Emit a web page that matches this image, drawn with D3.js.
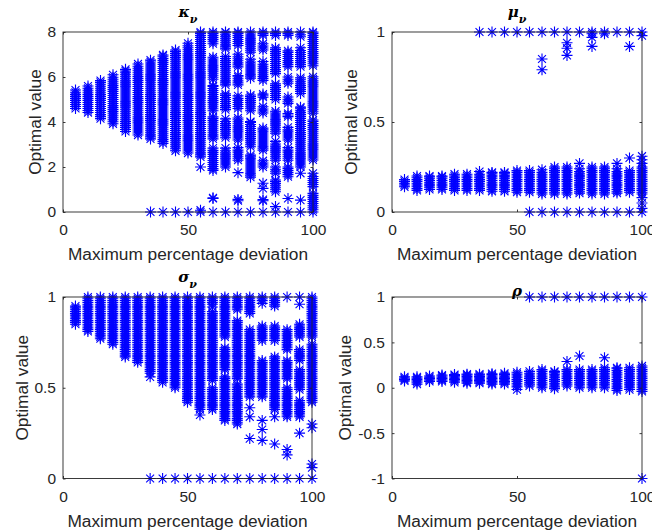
<!DOCTYPE html>
<html><head><meta charset="utf-8">
<script src="https://cdn.jsdelivr.net/npm/d3@7"></script>
<style>body{margin:0;background:#fff}svg{display:block}</style>
</head><body>
<svg id="c" width="652" height="531"></svg>
<script>
const xValues = [5,10,15,20,25,30,35,40,45,50,55,60,65,70,75,80,85,90,95,100];
const xTicks = [0,50,100];

const kappaValues = [
 [4.6,4.69,4.78,4.87,4.96,5.05,5.14,5.23,5.32,5.42],
 [4.42,4.51,4.6,4.69,4.78,4.87,4.96,5.05,5.14,5.23,5.32,5.41,5.5,5.6],
 [4.15,4.24,4.33,4.42,4.51,4.6,4.69,4.78,4.87,4.96,5.05,5.14,5.23,5.32,5.41,5.5,5.59,5.68,5.76,5.84],
 [3.92,4.01,4.1,4.19,4.28,4.37,4.46,4.55,4.64,4.73,4.82,4.91,5,5.09,5.18,5.27,5.36,5.45,5.54,5.63,5.72,5.81,5.9,5.99,6.1],
 [3.58,3.67,3.76,3.85,3.94,4.03,4.12,4.21,4.3,4.39,4.48,4.57,4.66,4.75,4.84,4.93,5.02,5.11,5.2,5.29,5.38,5.47,5.56,5.65,5.74,5.83,5.92,6.01,6.1,6.19,6.27,6.34],
 [3.42,3.51,3.6,3.69,3.78,3.87,3.96,4.05,4.14,4.23,4.32,4.41,4.5,4.59,4.68,4.77,4.86,4.95,5.04,5.13,5.22,5.31,5.4,5.49,5.58,5.67,5.76,5.85,5.94,6.03,6.12,6.21,6.3,6.39,6.48,6.58],
 [0,3.25,3.34,3.43,3.52,3.61,3.7,3.79,3.88,3.97,4.06,4.15,4.24,4.33,4.42,4.51,4.6,4.69,4.78,4.87,4.96,5.05,5.14,5.23,5.32,5.41,5.5,5.59,5.68,5.77,5.86,5.95,6.04,6.13,6.22,6.31,6.4,6.49,6.58,6.67,6.75],
 [0,3.05,3.14,3.23,3.32,3.41,3.5,3.59,3.68,3.77,3.86,3.95,4.04,4.13,4.22,4.31,4.4,4.49,4.58,4.67,4.76,4.85,4.94,5.03,5.12,5.21,5.3,5.39,5.48,5.57,5.66,5.75,5.84,5.93,6.02,6.11,6.2,6.29,6.38,6.47,6.56,6.65,6.74,6.83,6.92,6.98],
 [0,2.72,2.81,2.9,2.99,3.08,3.17,3.26,3.35,3.44,3.53,3.62,3.71,3.8,3.89,3.98,4.07,4.16,4.25,4.34,4.43,4.52,4.61,4.7,4.79,4.88,4.97,5.06,5.15,5.24,5.33,5.42,5.51,5.6,5.69,5.78,5.87,5.96,6.05,6.14,6.23,6.32,6.41,6.5,6.59,6.68,6.77,6.86,6.95,7.04,7.13,7.2],
 [0,2.62,2.71,2.8,2.89,2.98,3.07,3.16,3.25,3.34,3.43,3.52,3.61,3.7,3.79,3.88,3.97,4.06,4.15,4.24,4.33,4.42,4.51,4.6,4.69,4.78,4.87,4.96,5.05,5.14,5.23,5.32,5.41,5.5,5.59,5.68,5.77,5.86,5.95,6.04,6.13,6.22,6.31,6.4,6.49,6.58,6.67,6.76,6.85,6.94,7.03,7.12,7.21,7.3,7.39,7.5],
 [0,.08,2,2.45,2.54,2.63,2.72,2.81,2.9,2.99,3.08,3.17,3.26,3.35,3.44,3.53,3.62,3.71,3.8,3.89,3.98,4.07,4.16,4.25,4.34,4.43,4.52,4.61,4.7,4.79,4.88,4.97,5.06,5.15,5.24,5.33,5.42,5.51,5.6,5.69,5.78,5.87,5.96,6.05,6.14,6.23,6.32,6.41,6.5,6.59,6.68,6.77,6.86,6.95,7.04,7.13,7.22,7.31,7.4,7.49,7.58,7.67,7.76,7.85,7.94,8],
 [0,.6,.63,1.85,1.93,2.02,2.11,2.2,2.29,2.38,2.47,2.56,2.65,2.74,2.84,3.25,3.34,3.43,3.52,3.61,3.7,3.79,3.88,3.97,4.06,4.15,4.23,4.5,4.59,4.68,4.77,4.86,4.95,5.04,5.13,5.22,5.31,5.4,5.49,5.58,5.62,5.9,5.99,6.08,6.17,6.26,6.35,6.44,6.53,6.62,6.71,6.8,6.88,7.48,7.57,7.66,7.75,7.84,7.93,8],
 [0,2,2.09,2.18,2.27,2.36,2.45,2.54,2.63,2.72,2.84,3.3,3.39,3.48,3.57,3.66,3.75,3.84,3.93,4.02,4.14,4.55,4.64,4.73,4.82,4.91,5,5.09,5.18,5.25,5.65,5.74,5.83,5.92,6.01,6.1,6.19,6.28,6.37,6.46,6.55,6.64,6.73,6.82,6.91,7.25,7.34,7.43,7.52,7.61,7.7,7.79,7.88,7.97,8],
 [0,.5,.56,1.75,2.3,2.39,2.48,2.57,2.66,2.75,2.86,3.2,3.29,3.38,3.47,3.56,3.65,3.74,3.83,3.92,4.01,4.1,4.18,4.6,4.69,4.78,4.87,4.96,5.05,5.16,5.65,5.74,5.83,5.92,6.01,6.07,6.45,6.54,6.63,6.72,6.81,6.9,7.01,7.4,7.49,7.58,7.67,7.76,7.85,7.94,8],
 [0,1.55,1.64,1.73,1.82,1.91,2,2.09,2.18,2.27,2.36,2.45,2.53,2.9,2.99,3.08,3.17,3.26,3.35,3.44,3.53,3.62,3.71,3.8,3.89,3.98,4.02,4.5,4.59,4.68,4.77,4.86,4.95,5.04,5.13,5.2,5.95,6.04,6.13,6.22,6.31,6.4,6.49,6.58,6.67,6.79,7.1,7.19,7.28,7.37,7.46,7.55,7.64,7.73,7.82,7.91,8],
 [0,.5,.55,1.05,1.28,2,2.09,2.18,2.28,2.75,2.84,2.93,3.02,3.11,3.2,3.29,3.38,3.47,3.56,3.65,3.73,4.4,4.49,4.58,4.68,5.1,5.17,5.24,5.85,5.94,6.03,6.12,6.21,6.3,6.39,6.48,6.57,6.69,7.2,7.29,7.38,7.48,7.85,7.93,8],
 [0,.24,.9,.99,1.08,1.17,1.26,1.35,1.42,1.72,1.81,1.9,2,2.3,2.39,2.48,2.57,2.66,2.75,2.84,2.93,3.02,3.14,3.5,3.59,3.68,3.77,3.86,3.95,4.04,4.13,4.22,4.31,4.4,4.48,5,5.09,5.18,5.27,5.36,5.45,5.54,5.63,5.7,6.15,6.24,6.33,6.42,6.51,6.6,6.69,6.78,6.87,6.96,7.05,7.14,7.23,7.3,7.85,7.93,8],
 [0,.6,1.57,1.66,1.75,1.84,1.93,2,2.3,2.39,2.48,2.57,2.66,2.75,2.86,3.2,3.29,3.38,3.47,3.56,3.65,3.76,4.24,4.31,4.38,4.83,4.92,5.01,5.11,5.72,5.81,5.9,6,6.46,6.55,6.64,6.73,6.82,6.91,7,7.09,7.16,7.85,7.93,8],
 [0,.53,1.72,2,2.09,2.18,2.27,2.36,2.45,2.54,2.63,2.72,2.81,2.9,2.99,3.08,3.17,3.26,3.35,3.44,3.53,3.62,3.71,3.8,3.89,3.98,4.07,4.16,4.25,4.34,4.43,4.52,4.61,4.66,5.27,5.36,5.45,5.54,5.63,5.72,5.81,5.9,5.97,6.46,6.55,6.64,6.73,6.82,6.91,7,7.09,7.18,7.3,7.79,7.88,8],
 [0,.1,.19,.28,.38,.47,.56,.65,.74,.83,1.13,1.22,1.31,1.4,1.49,1.58,1.72,2.31,2.4,2.49,2.58,2.67,2.76,2.85,2.94,3.03,3.12,3.21,3.3,3.39,3.48,3.57,3.66,3.75,3.84,3.93,4.02,4.09,4.39,4.48,4.57,4.66,4.75,4.84,4.93,5.02,5.11,5.2,5.29,5.38,5.47,5.56,5.65,5.74,5.83,5.92,6.01,6.5,6.59,6.68,6.77,6.86,6.95,7.04,7.13,7.22,7.31,7.4,7.49,7.58,7.67,7.76,7.85,7.94,8]
];

const muValues = [
 [.14,.15,.16,.17,.18],
 [.12,.13,.14,.15,.16,.17,.18,.19,.2],
 [.125,.135,.145,.155,.165,.175,.185,.195,.2],
 [.125,.135,.145,.155,.165,.175,.185,.195,.2],
 [.12,.13,.14,.15,.16,.17,.18,.19,.2,.21],
 [.12,.13,.14,.15,.16,.17,.18,.19,.2,.21],
 [.12,.13,.14,.15,.16,.17,.18,.19,.2,.21,.225,1],
 [.115,.125,.135,.145,.155,.165,.175,.185,.195,.205,.215,.22,1],
 [.115,.125,.135,.145,.155,.165,.175,.185,.195,.205,.215,.22,1],
 [.11,.12,.13,.14,.15,.16,.17,.18,.19,.2,.21,.22,.23,1],
 [0,.11,.12,.13,.14,.15,.16,.17,.18,.19,.2,.21,.22,.23,1],
 [0,.1,.11,.12,.13,.14,.15,.16,.17,.18,.19,.2,.21,.22,.235,.79,.85,1],
 [0,.1,.11,.12,.13,.14,.15,.16,.17,.18,.19,.2,.21,.22,.23,.24,.25,1],
 [0,.1,.11,.12,.13,.14,.15,.16,.17,.18,.19,.2,.21,.22,.23,.24,.25,.87,.91,.94,1],
 [0,.105,.115,.125,.135,.145,.155,.165,.175,.185,.195,.205,.215,.225,.24,.27,1],
 [0,.1,.11,.12,.13,.14,.15,.16,.17,.18,.19,.2,.21,.22,.23,.24,.25,.92,.97,.99,1],
 [0,.1,.11,.12,.13,.14,.15,.16,.17,.18,.19,.2,.21,.22,.23,.24,.25,.99,1],
 [0,.105,.115,.125,.135,.145,.155,.165,.175,.185,.195,.205,.215,.225,.24,.27,1],
 [0,.11,.12,.13,.14,.15,.16,.17,.18,.19,.2,.21,.22,.23,.3,.92,1],
 [0,.02,.05,.08,.1,.11,.12,.13,.14,.15,.16,.17,.18,.19,.2,.21,.22,.23,.24,.25,.27,.29,.31,.98,1]
];

const sigmaValues = [
 [.85,.86,.87,.88,.89,.9,.91,.92,.93,.94,.95],
 [.81,.82,.83,.84,.85,.86,.87,.88,.89,.9,.91,.92,.93,.94,.95,.96,.97,.98,.99,1],
 [.77,.78,.79,.8,.81,.82,.83,.84,.85,.86,.87,.88,.89,.9,.91,.92,.93,.94,.95,.96,.97,.98,.99,1],
 [.74,.75,.76,.77,.78,.79,.8,.81,.82,.83,.84,.85,.86,.87,.88,.89,.9,.91,.92,.93,.94,.95,.96,.97,.98,.99,1],
 [.67,.68,.69,.7,.71,.72,.73,.74,.75,.76,.77,.78,.79,.8,.81,.82,.83,.84,.85,.86,.87,.88,.89,.9,.91,.92,.93,.94,.95,.96,.97,.98,.99,1],
 [.64,.65,.66,.67,.68,.69,.7,.71,.72,.73,.74,.75,.76,.77,.78,.79,.8,.81,.82,.83,.84,.85,.86,.87,.88,.89,.9,.91,.92,.93,.94,.95,.96,.97,.98,.99,1],
 [0,.56,.58,.59,.6,.61,.62,.63,.64,.65,.66,.67,.68,.69,.7,.71,.72,.73,.74,.75,.76,.77,.78,.79,.8,.81,.82,.83,.84,.85,.86,.87,.88,.89,.9,.91,.92,.93,.94,.95,.96,.97,.98,.99,1],
 [0,.53,.54,.55,.56,.57,.58,.59,.6,.61,.62,.63,.64,.65,.66,.67,.68,.69,.7,.71,.72,.73,.74,.75,.76,.77,.78,.79,.8,.81,.82,.83,.84,.85,.86,.87,.88,.89,.9,.91,.92,.93,.94,.95,.96,.97,.98,.99,1],
 [0,.5,.51,.52,.53,.54,.55,.56,.57,.58,.59,.6,.61,.62,.63,.64,.65,.66,.67,.68,.69,.7,.71,.72,.73,.74,.75,.76,.77,.78,.79,.8,.81,.82,.83,.84,.85,.86,.87,.88,.89,.9,.91,.92,.93,.94,.95,.96,.97,.98,.99,1],
 [0,.42,.43,.44,.45,.46,.47,.48,.49,.5,.51,.52,.53,.54,.55,.56,.57,.58,.59,.6,.61,.62,.63,.64,.65,.66,.67,.68,.69,.7,.71,.72,.73,.74,.75,.76,.77,.78,.79,.8,.81,.82,.83,.84,.85,.86,.87,.88,.89,.9,.91,.92,.93,.94,.95,.96,.97,.98,.99,1],
 [0,.35,.38,.39,.4,.41,.42,.43,.44,.45,.46,.47,.48,.49,.5,.51,.52,.53,.54,.55,.56,.57,.58,.59,.6,.61,.62,.63,.64,.65,.66,.67,.68,.69,.7,.71,.72,.73,.74,.75,.76,.77,.78,.79,.8,.81,.82,.83,.84,.85,.86,.87,.88,.89,.9,.91,.92,.93,.94,.95,.96,.97,.98,.99,1],
 [0,.38,.39,.4,.41,.42,.43,.44,.45,.46,.47,.48,.49,.5,.54,.55,.56,.57,.58,.59,.6,.61,.62,.63,.64,.65,.66,.67,.68,.69,.7,.71,.72,.73,.74,.75,.76,.77,.78,.79,.8,.81,.82,.83,.84,.85,.86,.87,.88,.89,.9,.91,.92,.945,.96,.97,.98,.99,1],
 [0,.32,.33,.34,.35,.36,.37,.38,.39,.4,.41,.42,.43,.44,.45,.46,.47,.48,.49,.5,.51,.52,.53,.54,.55,.56,.6,.61,.62,.63,.64,.65,.66,.67,.68,.69,.7,.71,.72,.78,.79,.8,.81,.82,.83,.84,.85,.86,.87,.88,.89,.9,.91,.92,.93,.94,.95,.96,.97,.98,.99,1],
 [0,.3,.31,.32,.33,.34,.35,.36,.37,.38,.39,.4,.41,.42,.43,.44,.45,.46,.47,.48,.49,.5,.51,.52,.55,.56,.57,.58,.59,.6,.61,.62,.63,.64,.65,.66,.67,.68,.69,.7,.71,.72,.73,.74,.75,.76,.77,.78,.79,.8,.81,.82,.83,.84,.85,.86,.87,.93,.94,.95,.96,.97,.98,.99,1],
 [0,.22,.34,.39,.45,.46,.47,.48,.49,.5,.51,.52,.53,.54,.55,.56,.57,.58,.59,.6,.61,.62,.63,.64,.65,.66,.67,.68,.69,.7,.71,.72,.73,.74,.75,.76,.77,.78,.79,.8,.81,.82,.91,.92,.93,.94,.95,.96,.97,.98,.99,1],
 [0,.21,.27,.32,.45,.46,.47,.48,.49,.5,.51,.52,.53,.54,.55,.56,.57,.58,.59,.6,.61,.62,.63,.64,.65,.76,.77,.78,.79,.8,.81,.82,.83,.84,.965,.98,.99,1],
 [0,.19,.34,.38,.39,.4,.41,.42,.43,.44,.45,.46,.47,.48,.49,.5,.51,.52,.53,.54,.55,.56,.57,.58,.59,.6,.61,.62,.63,.64,.65,.66,.67,.76,.77,.78,.79,.8,.81,.82,.83,.84,.95,.96,.97,.98,.99,1],
 [0,.13,.16,.34,.35,.36,.37,.38,.39,.4,.41,.42,.43,.44,.45,.46,.47,.48,.49,.5,.55,.56,.57,.58,.59,.6,.61,.62,.63,.64,.65,.71,.72,.73,.74,.75,.76,.77,.78,.79,.8,.81,.82,1],
 [0,.25,.34,.35,.36,.37,.38,.39,.4,.41,.42,.43,.49,.5,.51,.52,.53,.54,.55,.56,.57,.58,.59,.6,.65,.66,.67,.68,.69,.7,.71,.78,.79,.8,.81,.82,.83,.84,.85,.96,1],
 [0,.06,.08,.28,.3,.42,.43,.44,.45,.46,.47,.48,.49,.5,.51,.52,.53,.54,.55,.56,.57,.58,.59,.6,.61,.62,.63,.64,.65,.66,.67,.68,.69,.7,.71,.72,.73,.74,.78,.79,.8,.81,.82,.83,.84,.85,.86,.87,.88,.89,.9,.91,.92,.93,.94,.95,.96,.97,.98,.99,1]
];

const rhoValues = [
 [.075,.09,.105,.12],
 [.04,.06,.075,.09,.105,.12],
 [.07,.085,.1,.115,.13],
 [.07,.085,.1,.115,.13,.14],
 [.06,.075,.09,.105,.12,.135,.145],
 [.05,.065,.08,.095,.11,.125,.14,.15],
 [.05,.065,.08,.095,.11,.125,.14,.15],
 [.04,.055,.07,.085,.1,.115,.13,.145,.155],
 [.04,.055,.07,.085,.1,.115,.13,.145,.16],
 [-.02,.01,.03,.05,.07,.09,.11,.13,.15,.17],
 [.02,.04,.06,.08,.1,.12,.14,.16,.18,1],
 [0,.02,.04,.06,.08,.1,.12,.14,.16,.18,.2,1],
 [-.01,.01,.03,.05,.07,.09,.11,.13,.15,.17,.18,1],
 [.02,.04,.06,.08,.1,.12,.14,.16,.18,.2,.29,1],
 [0,.02,.04,.06,.08,.1,.12,.14,.16,.18,.2,.35,1],
 [0,.02,.04,.06,.08,.1,.12,.14,.16,.18,.2,1],
 [0,.02,.04,.06,.08,.1,.12,.14,.16,.18,.2,.22,.33,1],
 [-.03,-.01,.01,.03,.05,.07,.09,.11,.13,.15,.17,.19,.21,.22,1],
 [-.02,0,.02,.04,.06,.08,.1,.12,.14,.16,.18,.2,.22,1],
 [-1,-.04,-.02,0,.02,.04,.06,.08,.1,.12,.14,.16,.18,.2,.22,.24,1]
];

const kappaTicks = [0,2,4,6,8], kappaTickLabels = ["0","2","4","6","8"];
const unitTicks = [0,0.5,1], unitTickLabels = ["0","0.5","1"];
const rhoTicks = [-1,-0.5,0,0.5,1], rhoTickLabels = ["-1","-0.5","0","0.5","1"];
const titles = [["κ","ν"],["μ","ν"],["σ","ν"],["ρ",""]];
const xLabel = "Maximum percentage deviation";
const yLabel = "Optimal value";

const panels = [
 {vals:kappaValues, dom:[0,8], ticks:kappaTicks, labels:kappaTickLabels, title:titles[0], box:[63,313,32,212], ylx:22.5, tdy:15},
 {vals:muValues, dom:[0,1], ticks:unitTicks, labels:unitTickLabels, title:titles[1], box:[392,642,32,212], ylx:35, tdy:15},
 {vals:sigmaValues, dom:[0,1], ticks:unitTicks, labels:unitTickLabels, title:titles[2], box:[63,312,297,478.5], ylx:35, tdy:15},
 {vals:rhoValues, dom:[-1,1], ticks:rhoTicks, labels:rhoTickLabels, title:titles[3], box:[392,642,297,478.5], ylx:41, tdy:1}
];

const svg = d3.select("#c");
svg.append("rect").attr("width",652).attr("height",531).attr("fill","#fff");
const axCol = "#262626";
const fontS = "'Liberation Sans', Arial, Helvetica, sans-serif";
const r = 5.5, d = r*0.72;
const star = `M${-r},0H${r}M0,${-r}V${r}M${-d},${-d}L${d},${d}M${-d},${d}L${d},${-d}`;

panels.forEach(p => {
  const [l, rr, t, b] = p.box;
  const x = d3.scaleLinear().domain([0,100]).range([l, rr]);
  const y = d3.scaleLinear().domain(p.dom).range([b, t]);
  const g = svg.append("g");

  const pts = [];
  p.vals.forEach((col,i) => col.forEach(v => pts.push([xValues[i], v])));
  g.append("g").selectAll("path").data(pts).join("path")
    .attr("d", star)
    .attr("transform", q => `translate(${x(q[0])},${y(q[1])})`)
    .attr("stroke","#0000ff").attr("stroke-width",1.1).attr("fill","none");

  g.append("rect").attr("x",l).attr("y",t).attr("width",rr-l).attr("height",b-t)
    .attr("fill","none").attr("stroke",axCol).attr("stroke-width",0.9);

  const fmt = (v) => p.labels[p.ticks.indexOf(v)];
  const ax = (axis) => axis.tickSizeOuter(0);
  const yl = g.append("g").attr("transform",`translate(${l},0)`)
    .call(ax(d3.axisLeft(y).tickValues(p.ticks).tickFormat(fmt).tickSizeInner(-2.5).tickPadding(7)));
  const yr = g.append("g").attr("transform",`translate(${rr},0)`)
    .call(ax(d3.axisRight(y).tickValues(p.ticks).tickFormat("").tickSizeInner(-2.5)));
  const xb = g.append("g").attr("transform",`translate(0,${b})`)
    .call(ax(d3.axisBottom(x).tickValues(xTicks).tickFormat(v=>String(v)).tickSizeInner(-2.5).tickPadding(12)));
  const xt = g.append("g").attr("transform",`translate(0,${t})`)
    .call(ax(d3.axisTop(x).tickValues(xTicks).tickFormat("").tickSizeInner(-2.5)));
  [yl,yr,xb,xt].forEach(a => {
    a.select(".domain").remove();
    a.selectAll("line").attr("stroke",axCol).attr("stroke-width",0.9);
    a.selectAll("text").attr("fill",axCol).style("font-family",fontS).style("font-size","15.5px");
  });

  g.append("text").attr("x",(l+rr)/2).attr("y",b+48).attr("text-anchor","middle")
    .attr("fill",axCol).style("font-family",fontS).style("font-size","17.3px").text(xLabel);
  g.append("text").attr("transform",`translate(${l-p.ylx},${(t+b)/2}) rotate(-90)`)
    .attr("text-anchor","middle").attr("fill",axCol)
    .style("font-family",fontS).style("font-size","17.3px").text(yLabel);

  const tt = g.append("text").attr("x",(l+rr)/2).attr("y",t-p.tdy).attr("text-anchor","middle")
    .attr("fill","#000").style("font-family","'DejaVu Serif','Liberation Serif',serif")
    .style("font-style","italic").style("font-weight","bold").style("font-size","15px");
  tt.append("tspan").text(p.title[0]);
  if (p.title[1]) tt.append("tspan").attr("dy",6).style("font-size","11px").text(p.title[1]);
});
</script>
</body></html>
